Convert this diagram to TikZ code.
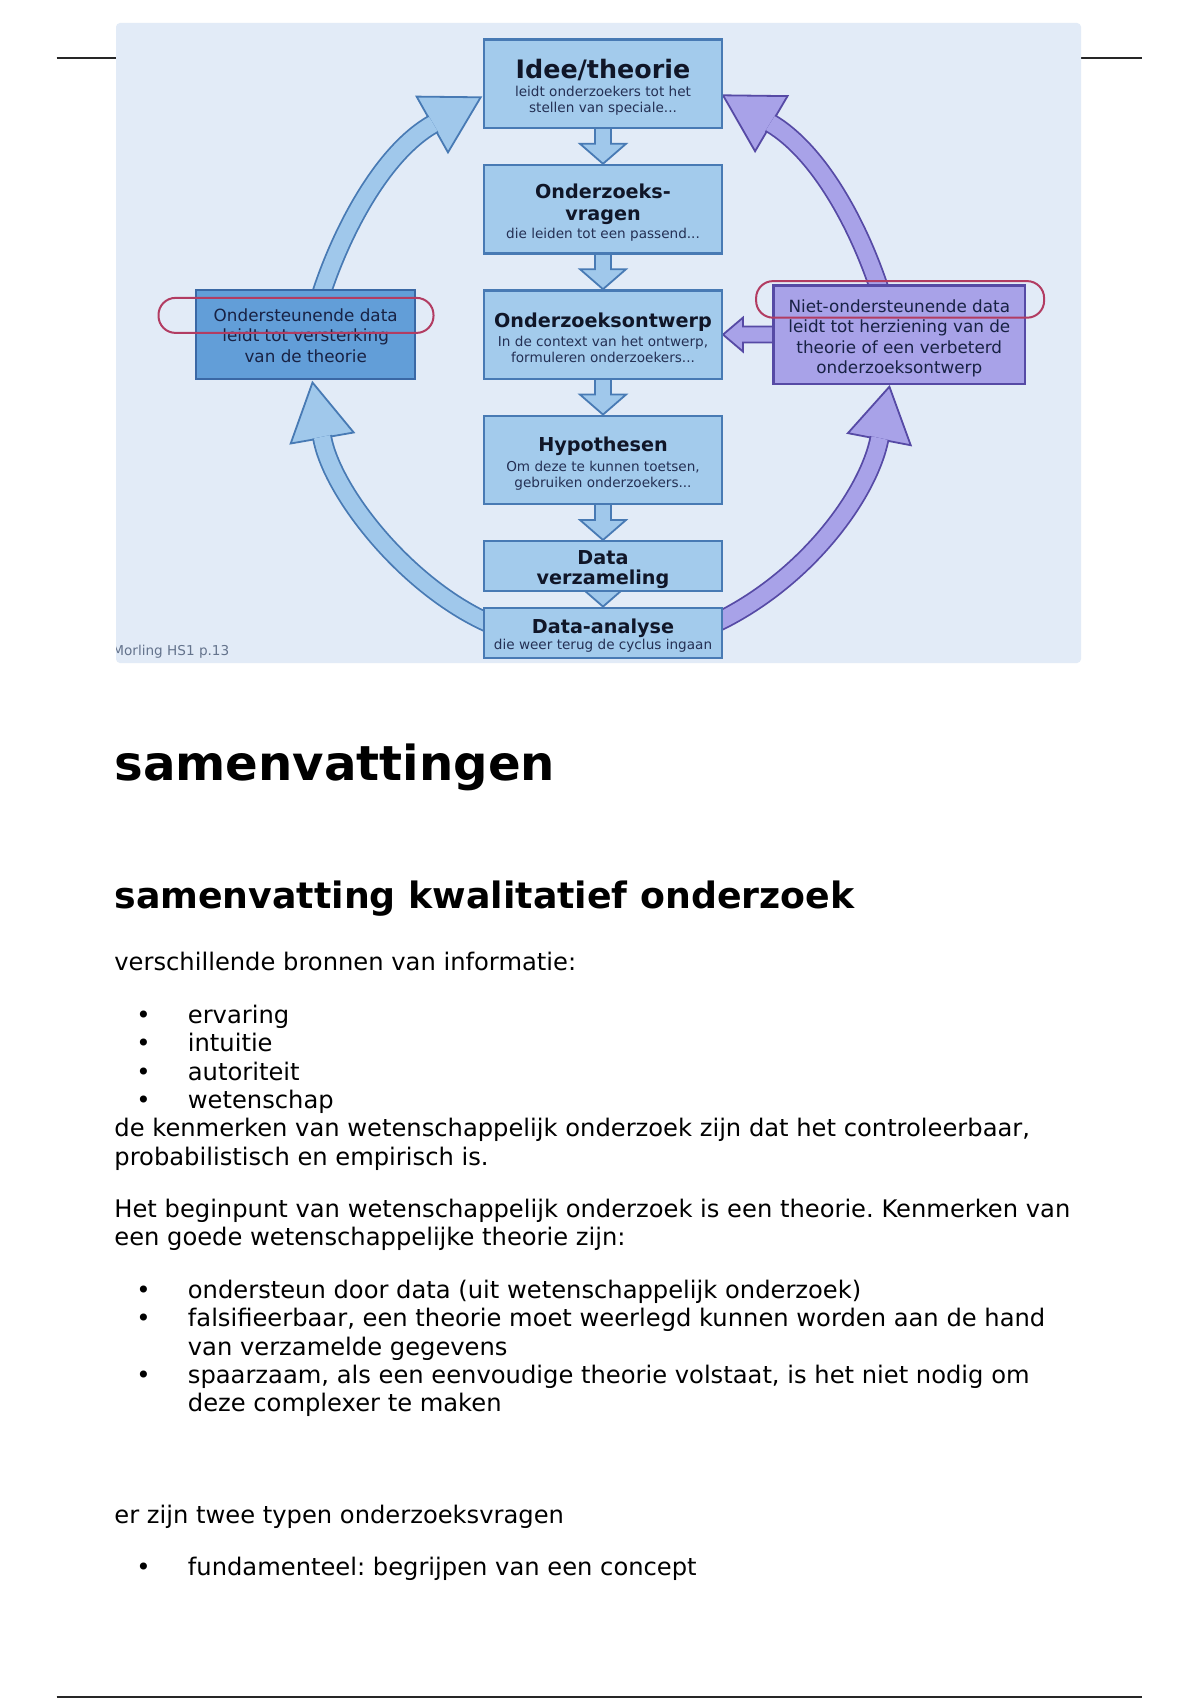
\documentclass[tikz,border=0pt]{standalone}
\usepackage{fontspec}
\setmainfont{DejaVu Sans}
\usepackage{xcolor}
\usetikzlibrary{calc, positioning, backgrounds}

\definecolor{pagebg}{RGB}{226,235,247}
\definecolor{boxfill}{RGB}{163,203,236}
\definecolor{boxline}{RGB}{72,122,180}
\definecolor{arcfill}{RGB}{160,200,235}
\definecolor{steunfill}{RGB}{98,158,216}
\definecolor{steunline}{RGB}{58,104,165}
\definecolor{lilafill}{RGB}{168,162,232}
\definecolor{lilaline}{RGB}{86,74,165}
\definecolor{ringred}{RGB}{178,60,98}
\definecolor{inkdark}{RGB}{16,22,40}
\definecolor{inksub}{RGB}{36,48,84}
\definecolor{inkside}{RGB}{24,34,68}
\definecolor{morlgray}{RGB}{100,115,140}

\pgfdeclarelayer{backdrop}
\pgfdeclarelayer{links}
\pgfsetlayers{backdrop,links,main}

\newcommand\ttl[1]{{\fontsize{9.6}{10.8}\selectfont\bfseries\color{inkdark}#1}}
\newcommand\ttlbig[1]{{\fontsize{12.7}{14}\selectfont\bfseries\color{inkdark}#1}}

\newcommand\stepdown[2]{%
  \filldraw[flow] ($(#1.south)+(-8,-3)$) -- ($(#2.north)+(-8,-20)$) -- ++(-15,0) -- (#2.north)
    -- ++(23,-20) -- ++(-15,0) -- ($(#1.south)+(8,-3)$);}

\newcommand\sweep[5]{%
  \coordinate (sw-s) at (#2);
  \coordinate (sw-c) at ($(sw-s)+(#3)$);
  \coordinate (sw-t) at (#4);
  \coordinate (sw-b) at ($(sw-t)+(#5)$);
  \filldraw[#1head] (sw-t) -- ($(sw-b)!16pt!90:(sw-t)$) -- ($(sw-b)!16pt!-90:(sw-t)$) -- cycle;
  \draw[#1shaft] (sw-s) .. controls (sw-c) and ($(sw-b)!-27.5pt!(sw-t)$) .. ($(sw-b)!0.6pt!(sw-t)$);}

\frenchspacing
\begin{document}
\begin{tikzpicture}[
	x=0.5pt, y=-0.5pt,
	stepbox/.style={draw=boxline, fill=boxfill, line width=1.2pt, align=center, minimum width=118.8pt, minimum height=44.2pt, inner xsep=1pt, inner ysep=0pt, font=\fontsize{6.8}{8.2}\selectfont, text=inksub},
	sidebox/.style={line width=1.2pt, align=center, inner xsep=1pt, inner ysep=0pt, font=\fontsize{8.4}{10.25}\selectfont, text=inkside},
	ring/.style={draw=ringred, line width=1pt, rounded corners=8.5pt, inner sep=0pt},
	flow/.style={fill=arcfill, draw=boxline, line width=0.9pt},
	redoflow/.style={fill=lilafill, draw=lilaline, line width=0.9pt},
	keephead/.style={fill=arcfill, draw=boxline, line width=0.9pt},
	keepshaft/.style={draw=boxline, line width=0.9pt, double=arcfill, double distance=8.2pt},
	redohead/.style={fill=lilafill, draw=lilaline, line width=0.9pt},
	redoshaft/.style={draw=lilaline, line width=0.9pt, double=lilafill, double distance=8.2pt},
	body/.style={anchor=base west, inner sep=0pt, align=left, font=\fontsize{12.1}{14.15}\selectfont},
	bul/.style={anchor=base, inner sep=0pt, font=\fontsize{12.1}{14.15}\selectfont},
	rule/.style={line width=1pt, draw=black!85}
]
\useasboundingbox (0,0) rectangle (1200,1700);

\begin{pgfonlayer}{backdrop}
	\fill[white] (0,0) rectangle (1200,1700);
	\draw[rule] (56.7,57.7) -- (1141.5,57.7);
	\draw[rule] (56.7,1697) -- (1141.5,1697);
	\fill[pagebg, rounded corners=2pt] (116,23) rectangle (1081,663);
\end{pgfonlayer}

\node[stepbox, text height=36.7pt, text depth=7.5pt] (idee) at (603,83.8) {\ttlbig{Idee/theorie}\\[1pt]leidt onderzoekers tot het\\stellen van speciale...};
\node[stepbox, text height=36.7pt, text depth=7.5pt, below=17.3pt of idee] (vragen) {\ttl{Onderzoeks-}\\[2.65pt]\ttl{vragen}\\[0.95pt]die leiden tot een passend...};
\node[stepbox, text height=36.1pt, text depth=8.1pt, below=17.3pt of vragen] (ontwerp) {\ttl{Onderzoeksontwerp}\\[1pt]In de context van het ontwerp,\\formuleren onderzoekers...};
\node[stepbox, text height=35.8pt, text depth=8.4pt, below=17.3pt of ontwerp] (hyp) {\ttl{Hypothesen}\\[1.4pt]Om deze te kunnen toetsen,\\gebruiken onderzoekers...};
\node[stepbox, minimum height=25pt, text height=21.8pt, text depth=3.2pt, below=17.3pt of hyp] (verz) {\ttl{Data}\\[2.15pt]\ttl{verzameling}};
\node[stepbox, minimum height=25pt, text height=20.8pt, text depth=4.2pt, below=7.1pt of verz] (analyse) {\ttl{Data-analyse}\\die weer terug de cyclus ingaan};

\node[sidebox, draw=steunline, fill=steunfill, minimum width=109.5pt, minimum height=44.3pt, text height=36.05pt, text depth=8.25pt, left=33.3pt of ontwerp] (steun) {Ondersteunende data\\leidt tot versterking\\van de theorie};
\node[sidebox, draw=lilaline, fill=lilafill, minimum width=125.9pt, minimum height=49.2pt, text height=44.1pt, text depth=5.1pt, right=24.6pt of ontwerp] (herz) {Niet-ondersteunende data\\leidt tot herziening van de\\theorie of een verbeterd\\onderzoeksontwerp};

\node[ring, minimum width=137.5pt, minimum height=17.5pt] (ringsteun) at ($(steun)+(-9.7,-19.2)$) {};
\node[ring, minimum width=144pt, minimum height=18.3pt] (ringherz) at ($(herz)+(0.8,-35.2)$) {};

\begin{scope}
	\clip (116,23) rectangle (1081,663);
	\node[anchor=base west, inner sep=0pt, font=\fontsize{6.8}{8}\selectfont, text=morlgray] (bron) at (112,655) {Morling HS1 p.13};
\end{scope}

\begin{pgfonlayer}{links}
	\stepdown{idee}{vragen}
	\stepdown{vragen}{ontwerp}
	\stepdown{ontwerp}{hyp}
	\stepdown{hyp}{verz}
	\stepdown{verz}{analyse}
	\filldraw[redoflow] ($(herz.west |- ontwerp.east)+(3,-8)$) -- ($(ontwerp.east)+(20,-8)$) -- ++(0,-9) -- (ontwerp.east)
		-- ++(20,17) -- ++(0,-9) -- ($(herz.west |- ontwerp.east)+(3,8)$);
	\sweep{keep}{$(steun.north)+(15.5,5)$}{21.7,-66.5}{$(idee.west)+(-2.3,13.5)$}{-48.4,27.2}
	\sweep{keep}{$(analyse.west)+(5,-10)$}{-82,-36.9}{$(steun.south)+(6.8,2.4)$}{9.7,55.5}
	\sweep{redo}{$(analyse.east)+(-5,-11)$}{89.8,-43.9}{$(herz.south)+(-9.9,1.7)$}{-10.1,52.5}
	\sweep{redo}{$(herz.north)+(-19.2,7)$}{-21.7,-66.5}{$(idee.east)+(0,11.5)$}{48.3,28.4}
\end{pgfonlayer}

\node[body, font=\fontsize{24.1}{28}\selectfont\bfseries] (titel) at (114,780) {samenvattingen};
\node[body, font=\fontsize{18.15}{21}\selectfont\bfseries] (kop) at (114,908.3) {samenvatting kwalitatief onderzoek};
\node[body] (bronnen) at (114,970.7) {verschillende bronnen van informatie:};
\foreach \w [count=\i] in {ervaring,intuitie,autoriteit,wetenschap} {
	\node[bul] (dot\i) at (143.4,{995+28.33*\i}) {•};
	\node[body] (src\i) at (187.5,{995+28.33*\i}) {\w};
}
\node[body] (kenmerk) at (114,1165) {de kenmerken van wetenschappelijk onderzoek zijn dat het controleerbaar,\\probabilistisch en empirisch is.};
\node[body] (begin) at (114,1245.3) {Het beginpunt van wetenschappelijk onderzoek is een theorie. Kenmerken van\\een goede wetenschappelijke theorie zijn:};
\node[bul] (dot5) at (143.4,1298.4) {•};
\node[body] (eis1) at (187.5,1298.4) {ondersteun door data (uit wetenschappelijk onderzoek)};
\node[bul] (dot6) at (143.4,1326.7) {•};
\node[body] (eis2) at (187.5,1355) {falsifieerbaar, een theorie moet weerlegd kunnen worden aan de hand\\van verzamelde gegevens};
\node[bul] (dot7) at (143.4,1383.4) {•};
\node[body] (eis3) at (187.5,1411.7) {spaarzaam, als een eenvoudige theorie volstaat, is het niet nodig om\\deze complexer te maken};
\node[body] (typen) at (114,1523) {er zijn twee typen onderzoeksvragen};
\node[bul] (dot8) at (143.4,1575.4) {•};
\node[body] (fund) at (187.5,1575.4) {fundamenteel: begrijpen van een concept};

\end{tikzpicture}
\end{document}
